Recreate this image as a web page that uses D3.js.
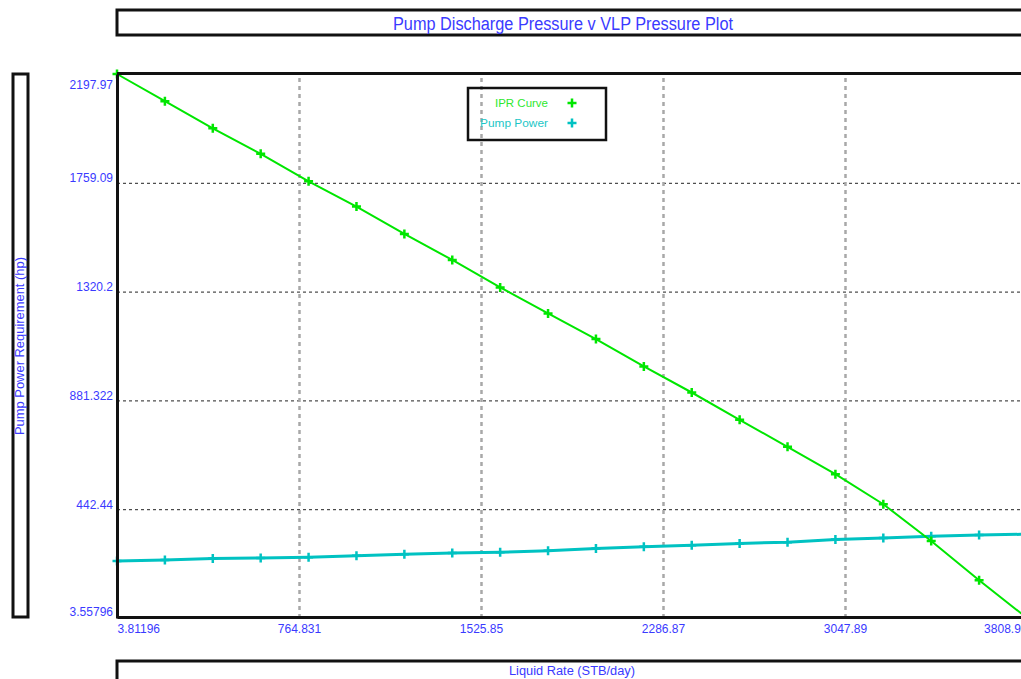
<!DOCTYPE html>
<html>
<head>
<meta charset="utf-8">
<script src="https://cdn.jsdelivr.net/npm/d3@7"></script>
<style>
  html, body { margin: 0; padding: 0; background: #fff; overflow: hidden; }
  svg { display: block; font-family: "Liberation Sans", Arial, sans-serif; }
</style>
</head>
<body>
<svg id="chart" width="1021" height="679"></svg>
<script>
// ---- data ----
const liquidRate = [3.81196, 204.08, 404.35, 604.62, 804.89, 1005.15, 1205.42, 1405.69, 1605.96, 1806.22,
                    2006.49, 2206.76, 2407.03, 2607.30, 2807.56, 3007.83, 3208.10, 3408.37, 3608.64, 3808.91];
const iprCurve   = [2197.97, 2088.2, 1979.1, 1875.8, 1765.2, 1663.0, 1552.8, 1447.8, 1337.2, 1232.2,
                    1128.8, 1018.2, 913.2, 803.0, 694.0, 583.8, 462.6, 314.5, 155.8, 3.56];
const pumpPower  = [233.7, 237.7, 243.8, 245.4, 248.6, 255.1, 260.8, 265.6, 269.2, 274.5,
                    283.8, 291.4, 297.1, 304.4, 309.6, 320.5, 325.8, 333.8, 338.7, 341.5];
const xTickValues = [3.81196, 764.831, 1525.85, 2286.87, 3047.89, 3808.91];
const xTickLabels = ["3.81196", "764.831", "1525.85", "2286.87", "3047.89", "3808.91"];
const yTickValues = [3.55796, 442.44, 881.322, 1320.2, 1759.09, 2197.97];
const yTickLabels = ["3.55796", "442.44", "881.322", "1320.2", "1759.09", "2197.97"];
const seriesNames = ["IPR Curve", "Pump Power"];
const titleText = "Pump Discharge Pressure v VLP Pressure Plot";
const xTitle = "Liquid Rate  (STB/day)";
const yTitle = "Pump Power Requirement  (hp)";

// ---- layout ----
const svg = d3.select("#chart");
const L = 117, R = 1027, T = 74, B = 618;
const blue = "#3a3aff";
const green = "#00e600", greenText = "#2ee82e";
const cyan = "#00c2c2", cyanText = "#1cc6c6";

const x = d3.scaleLinear().domain([xTickValues[0], xTickValues[5]]).range([L, R]);
const y = d3.scaleLinear().domain([yTickValues[0], yTickValues[5]]).range([B, T]);

// boxes
svg.append("rect").attr("x", 117).attr("y", 10).attr("width", 1000).attr("height", 25)
  .attr("fill", "none").attr("stroke", "#111").attr("stroke-width", 3);
svg.append("text").attr("x", 563).attr("y", 29.5).attr("text-anchor", "middle")
  .attr("font-size", 18).attr("fill", blue)
  .attr("textLength", 340).attr("lengthAdjust", "spacingAndGlyphs").text(titleText);

svg.append("rect").attr("x", 13).attr("y", 74).attr("width", 15).attr("height", 543)
  .attr("fill", "none").attr("stroke", "#111").attr("stroke-width", 3);
svg.append("text").attr("transform", "translate(24,346) rotate(-90)").attr("text-anchor", "middle")
  .attr("font-size", 12).attr("fill", blue)
  .attr("textLength", 178).attr("lengthAdjust", "spacingAndGlyphs").text(yTitle);

svg.append("rect").attr("x", 117).attr("y", 661).attr("width", 1000).attr("height", 100)
  .attr("fill", "none").attr("stroke", "#111").attr("stroke-width", 3);
svg.append("text").attr("x", 572).attr("y", 675).attr("text-anchor", "middle")
  .attr("font-size", 12).attr("fill", blue)
  .attr("textLength", 126).attr("lengthAdjust", "spacingAndGlyphs").text(xTitle);

// grid
const inner = (v, i, arr) => i > 0 && i < arr.length - 1;
const gy = svg.append("g").attr("transform", `translate(${L},0)`)
  .call(d3.axisLeft(y).tickValues(yTickValues.filter(inner)).tickSize(-(R - L)).tickFormat(""));
gy.select(".domain").remove();
gy.selectAll("line").attr("stroke", "#222").attr("stroke-width", 1).attr("stroke-dasharray", "3,3");

const gx = svg.append("g").attr("transform", `translate(0,${B})`)
  .call(d3.axisBottom(x).tickValues(xTickValues.filter(inner)).tickSize(-(B - T)).tickFormat(""));
gx.select(".domain").remove();
gx.selectAll("line").attr("stroke", "#a8a8a8").attr("stroke-width", 2.5).attr("stroke-dasharray", "4,4");

// series
const plus = "M-4.5,0H4.5M0,-4.5V4.5";
function drawSeries(vals, color, width) {
  const pts = liquidRate.map((d, i) => [d, vals[i]]);
  svg.append("path").datum(pts)
    .attr("d", d3.line().x(d => x(d[0])).y(d => y(d[1])))
    .attr("fill", "none").attr("stroke", color).attr("stroke-width", width);
  svg.append("g").selectAll("path").data(pts).join("path")
    .attr("transform", d => `translate(${x(d[0])},${y(d[1])})`)
    .attr("d", plus).attr("fill", "none").attr("stroke", color).attr("stroke-width", 2.5);
}
drawSeries(pumpPower, cyan, 3);
drawSeries(iprCurve, green, 2);

// axes frame
svg.append("line").attr("x1", L).attr("x2", 1021).attr("y1", 73.5).attr("y2", 73.5)
  .attr("stroke", "#111").attr("stroke-width", 3);
const ax = svg.append("g").attr("transform", `translate(0,617)`)
  .call(d3.axisBottom(x).tickValues(xTickValues).tickFormat((d, i) => xTickLabels[i]).tickSize(0));
ax.select(".domain").attr("stroke", "#111").attr("stroke-width", 3);
ax.selectAll("text").attr("y", 16).attr("dy", 0).attr("font-size", 12)
  .attr("font-family", "Liberation Sans, Arial, sans-serif").attr("fill", blue)
  .attr("text-anchor", (d, i) => i === 0 ? "start" : (i === xTickValues.length - 1 ? "end" : "middle"));

const ay = svg.append("g").attr("transform", `translate(${L},0)`)
  .call(d3.axisLeft(y).tickValues(yTickValues).tickFormat((d, i) => yTickLabels[i]).tickSize(0).tickPadding(4));
ay.select(".domain").attr("stroke", "#111").attr("stroke-width", 3);
ay.selectAll("text").attr("font-size", 12).attr("font-family", "Liberation Sans, Arial, sans-serif")
  .attr("fill", blue)
  .attr("dy", (d, i) => i === yTickValues.length - 1 ? 14 : (i === 0 ? -3 : -1));

// legend
const lg = svg.append("g");
lg.append("rect").attr("x", 468).attr("y", 88).attr("width", 138).attr("height", 52)
  .attr("fill", "none").attr("stroke", "#111").attr("stroke-width", 2.5);
const legendItems = [{name: seriesNames[0], color: green, tc: greenText, len: 53, yy: 103},
                     {name: seriesNames[1], color: cyan, tc: cyanText, len: 68, yy: 123}];
legendItems.forEach(it => {
  lg.append("text").attr("x", 548).attr("y", it.yy + 4).attr("text-anchor", "end")
    .attr("font-size", 11.5).attr("fill", it.tc)
    .attr("textLength", it.len).attr("lengthAdjust", "spacingAndGlyphs").text(it.name);
  lg.append("path").attr("transform", `translate(572,${it.yy})`).attr("d", plus)
    .attr("fill", "none").attr("stroke", it.color).attr("stroke-width", 2.5);
});
</script>
</body>
</html>
